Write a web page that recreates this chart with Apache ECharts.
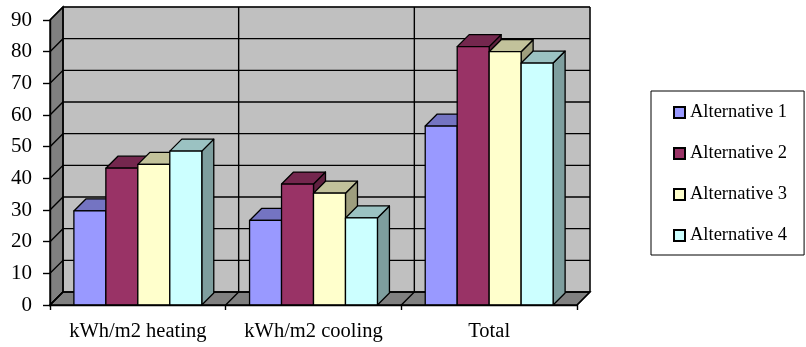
<!DOCTYPE html>
<html>
<head>
<meta charset="utf-8">
<script src="https://cdn.jsdelivr.net/npm/echarts@6/dist/echarts.min.js"></script>
<style>
  html, body { margin: 0; padding: 0; background: #fff; }
  #chart { width: 806px; height: 347px; }
</style>
</head>
<body>
<div id="chart"></div>
<script>
// Energy use per alternative (kWh/m2)
const categories = ['kWh/m2 heating', 'kWh/m2 cooling', 'Total'];
const seriesNames = ['Alternative 1', 'Alternative 2', 'Alternative 3', 'Alternative 4'];
const alt1 = [29.7, 26.7, 56.5];
const alt2 = [43.2, 38.2, 81.6];
const alt3 = [44.4, 35.3, 80.0];
const alt4 = [48.6, 27.5, 76.4];
const yTicks = [0, 10, 20, 30, 40, 50, 60, 70, 80, 90];

const seriesValues = [alt1, alt2, alt3, alt4];
const faceColors = ['#9999FF', '#993366', '#FFFFCC', '#CCFFFF'];

const WALL_DEPTH = 13;   // perspective offset of the back wall
const BAR_DEPTH = 12;    // perspective offset of each column
const BAR_RATIO = 0.182; // column width as a share of a category band
const SERIF = '"Liberation Serif", "Times New Roman", serif';

function shade(hex, f) {
  const n = parseInt(hex.slice(1), 16);
  const r = Math.round(((n >> 16) & 255) * f);
  const g = Math.round(((n >> 8) & 255) * f);
  const b = Math.round((n & 255) * f);
  return 'rgb(' + r + ',' + g + ',' + b + ')';
}

// Back wall, side wall, floor and their grid lines
function renderWalls(params, api) {
  const d = WALL_DEPTH;
  const x0 = api.coord([0, 0])[0] - api.size([1, 0])[0] / 2;
  const x1 = api.coord([categories.length - 1, 0])[0] + api.size([1, 0])[0] / 2;
  const yBot = api.coord([0, yTicks[0]])[1];
  const yTop = api.coord([0, yTicks[yTicks.length - 1]])[1];
  const lineStyle = { stroke: '#000', lineWidth: 1.4, fill: null };
  const children = [];
  // back wall
  children.push({ type: 'rect', shape: { x: x0 + d, y: yTop - d, width: x1 - x0, height: yBot - yTop },
    style: { fill: '#C0C0C0', stroke: '#808080', lineWidth: 1 } });
  // left side wall
  children.push({ type: 'polygon', shape: { points: [[x0, yBot], [x0, yTop], [x0 + d, yTop - d], [x0 + d, yBot - d]] },
    style: { fill: '#808080', stroke: '#000', lineWidth: 1.4 } });
  // floor
  children.push({ type: 'polygon', shape: { points: [[x0, yBot], [x0 + d, yBot - d], [x1 + d, yBot - d], [x1, yBot]] },
    style: { fill: '#808080', stroke: '#000', lineWidth: 1.4 } });
  // horizontal grid lines: side-wall diagonal + back-wall line
  yTicks.forEach(function (v) {
    const y = api.coord([0, v])[1];
    children.push({ type: 'polyline', shape: { points: [[x0, y], [x0 + d, y - d], [x1 + d, y - d]] }, style: lineStyle });
  });
  // category boundaries: floor diagonal + back-wall vertical
  for (let i = 0; i <= categories.length; i++) {
    const x = x0 + (x1 - x0) * i / categories.length;
    children.push({ type: 'polyline', shape: { points: [[x, yBot], [x + d, yBot - d], [x + d, yTop - d]] }, style: lineStyle });
  }
  return { type: 'group', children: children };
}

// One 3D column: front face, top face, right side face
function makeBarRenderer(seriesIdx) {
  return function (params, api) {
    const cat = api.value(0);
    const val = api.value(1);
    const band = api.size([1, 0])[0];
    const w = band * BAR_RATIO;
    const center = api.coord([cat, 0])[0];
    const left = center - 2 * w + seriesIdx * w;
    const y0 = api.coord([cat, 0])[1];
    const y1 = api.coord([cat, val])[1];
    const d = BAR_DEPTH;
    const base = faceColors[seriesIdx];
    const edge = { stroke: '#000', lineWidth: 1.3, lineJoin: 'round' };
    return {
      type: 'group',
      children: [
        { type: 'polygon', shape: { points: [[left + w, y0], [left + w, y1], [left + w + d, y1 - d], [left + w + d, y0 - d]] },
          style: Object.assign({ fill: shade(base, 0.62) }, edge) },
        { type: 'polygon', shape: { points: [[left, y1], [left + d, y1 - d], [left + w + d, y1 - d], [left + w, y1]] },
          style: Object.assign({ fill: shade(base, 0.76) }, edge) },
        { type: 'rect', shape: { x: left, y: y1, width: w, height: y0 - y1 },
          style: Object.assign({ fill: base }, edge) }
      ]
    };
  };
}

const chart = echarts.init(document.getElementById('chart'), null, { renderer: 'canvas' });

const series = [{
  type: 'custom',
  name: '__walls',
  z: 1,
  silent: true,
  renderItem: renderWalls,
  data: [[0, 0]],
  encode: { x: 0, y: 1 },
  legendHoverLink: false
}];

seriesNames.forEach(function (name, s) {
  series.push({
    type: 'custom',
    name: name,
    z: 2 + s,
    renderItem: makeBarRenderer(s),
    itemStyle: { color: faceColors[s], borderColor: '#000', borderWidth: 2 },
    encode: { x: 0, y: 1 },
    data: seriesValues[s].map(function (v, i) { return [i, v]; })
  });
});

chart.setOption({
  animation: false,
  backgroundColor: '#fff',
  grid: { left: 50, right: 229, top: 20, bottom: 42, containLabel: false },
  xAxis: {
    type: 'category',
    data: categories,
    boundaryGap: true,
    axisLine: { show: true, lineStyle: { color: '#000', width: 1.4 } },
    axisTick: { show: true, length: 5, lineStyle: { color: '#000', width: 1.4 } },
    axisLabel: { color: '#000', fontFamily: SERIF, fontSize: 20.5, margin: 16, interval: 0, hideOverlap: false },
    splitLine: { show: false },
    z: 10
  },
  yAxis: {
    type: 'value',
    min: yTicks[0],
    max: yTicks[yTicks.length - 1],
    interval: yTicks[1] - yTicks[0],
    axisLine: { show: true, lineStyle: { color: '#000', width: 1.4 } },
    axisTick: { show: true, length: 7, lineStyle: { color: '#000', width: 1.4 } },
    axisLabel: { color: '#000', fontFamily: SERIF, fontSize: 21, margin: 18 },
    splitLine: { show: false },
    z: 10
  },
  legend: {
    data: seriesNames,
    orient: 'vertical',
    left: 651,
    top: 91,
    padding: [12, 17, 10, 22],
    itemGap: 22,
    itemWidth: 11,
    itemHeight: 11,
    icon: 'rect',
    itemStyle: { borderColor: '#000', borderWidth: 2 },
    borderColor: '#000',
    borderWidth: 1,
    textStyle: { color: '#000', fontFamily: SERIF, fontSize: 18.5, lineHeight: 18 },
    selectedMode: false
  },
  series: series
});
</script>
</body>
</html>
